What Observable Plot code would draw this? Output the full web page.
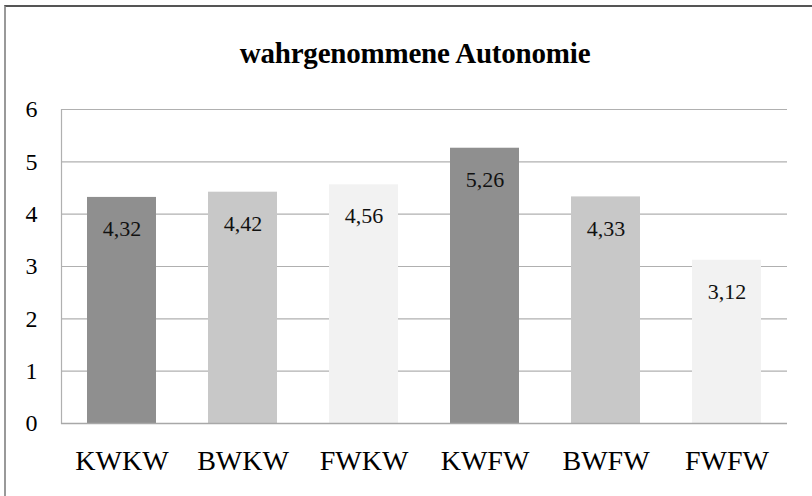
<!DOCTYPE html>
<html>
<head>
<meta charset="utf-8">
<script src="https://cdn.jsdelivr.net/npm/d3@7"></script>
<script src="https://cdn.jsdelivr.net/npm/@observablehq/plot@0.6"></script>
<style>
  html, body { margin: 0; padding: 0; background: #fff; }
  #wrap { position: relative; width: 812px; height: 496px; overflow: hidden; background: #fff; }
  #border { position: absolute; left: 4px; top: 5px; width: 900px; height: 600px;
            border-top: 2px solid #555; border-left: 2px solid #999; box-sizing: border-box; }
  #title { position: absolute; top: 39px; left: 0; width: 830px; text-align: center;
           font-family: 'Liberation Serif'; font-weight: 700;
           font-size: 29px; letter-spacing: -0.2px; color: #000; line-height: 1; white-space: nowrap; }
  #chart { position: absolute; left: 0; top: 0; }
</style>
</head>
<body>
<div id="wrap">
  <div id="border"></div>
  <div id="title">wahrgenommene Autonomie</div>
  <div id="chart"></div>
</div>
<script>
const categories = ["KWKW", "BWKW", "FWKW", "KWFW", "BWFW", "FWFW"];
const values = [4.32, 4.42, 4.56, 5.26, 4.33, 3.12];
const shades = ["#8f8f8f", "#c8c8c8", "#f2f2f2", "#8f8f8f", "#c8c8c8", "#f2f2f2"];
const yTicks = [0, 1, 2, 3, 4, 5, 6];

const data = categories.map((c, i) => ({cat: c, value: values[i], fill: shades[i]}));
const fmt = v => d3.format(".2f")(v).replace(".", ",");
const serif = "Liberation Serif";

const chart = Plot.plot({
  width: 812,
  height: 496,
  marginLeft: 61,
  marginRight: 25,
  marginTop: 109,
  marginBottom: 73,
  style: {background: "transparent", fontFamily: serif},
  x: {domain: categories, paddingInner: 0.43, paddingOuter: 0.215, label: null},
  y: {domain: [0, 6], label: null},
  marks: [
    Plot.ruleY(yTicks, {stroke: "#b0b0b0", strokeWidth: 1.2}),
    Plot.frame({anchor: "left", stroke: "#b0b0b0", strokeWidth: 1.2}),
    Plot.barY(data, {x: "cat", y: "value", fill: "fill"}),
    Plot.ruleY([0], {stroke: "#a8a8a8", strokeWidth: 1.5}),
    Plot.text(data, {x: "cat", y: "value", text: d => fmt(d.value), lineAnchor: "top", dy: 23,
      fontSize: 22, fill: "#111", fontFamily: serif}),
    Plot.axisY({ticks: yTicks, tickSize: 0, tickPadding: 24, fontSize: 24, tickFormat: d => String(d), label: null, fill: "#000", fontFamily: serif}),
    Plot.axisX({tickSize: 0, tickPadding: 27, fontSize: 28, label: null, fill: "#000", fontFamily: serif})
  ]
});
document.getElementById("chart").appendChild(chart);
</script>
</body>
</html>
